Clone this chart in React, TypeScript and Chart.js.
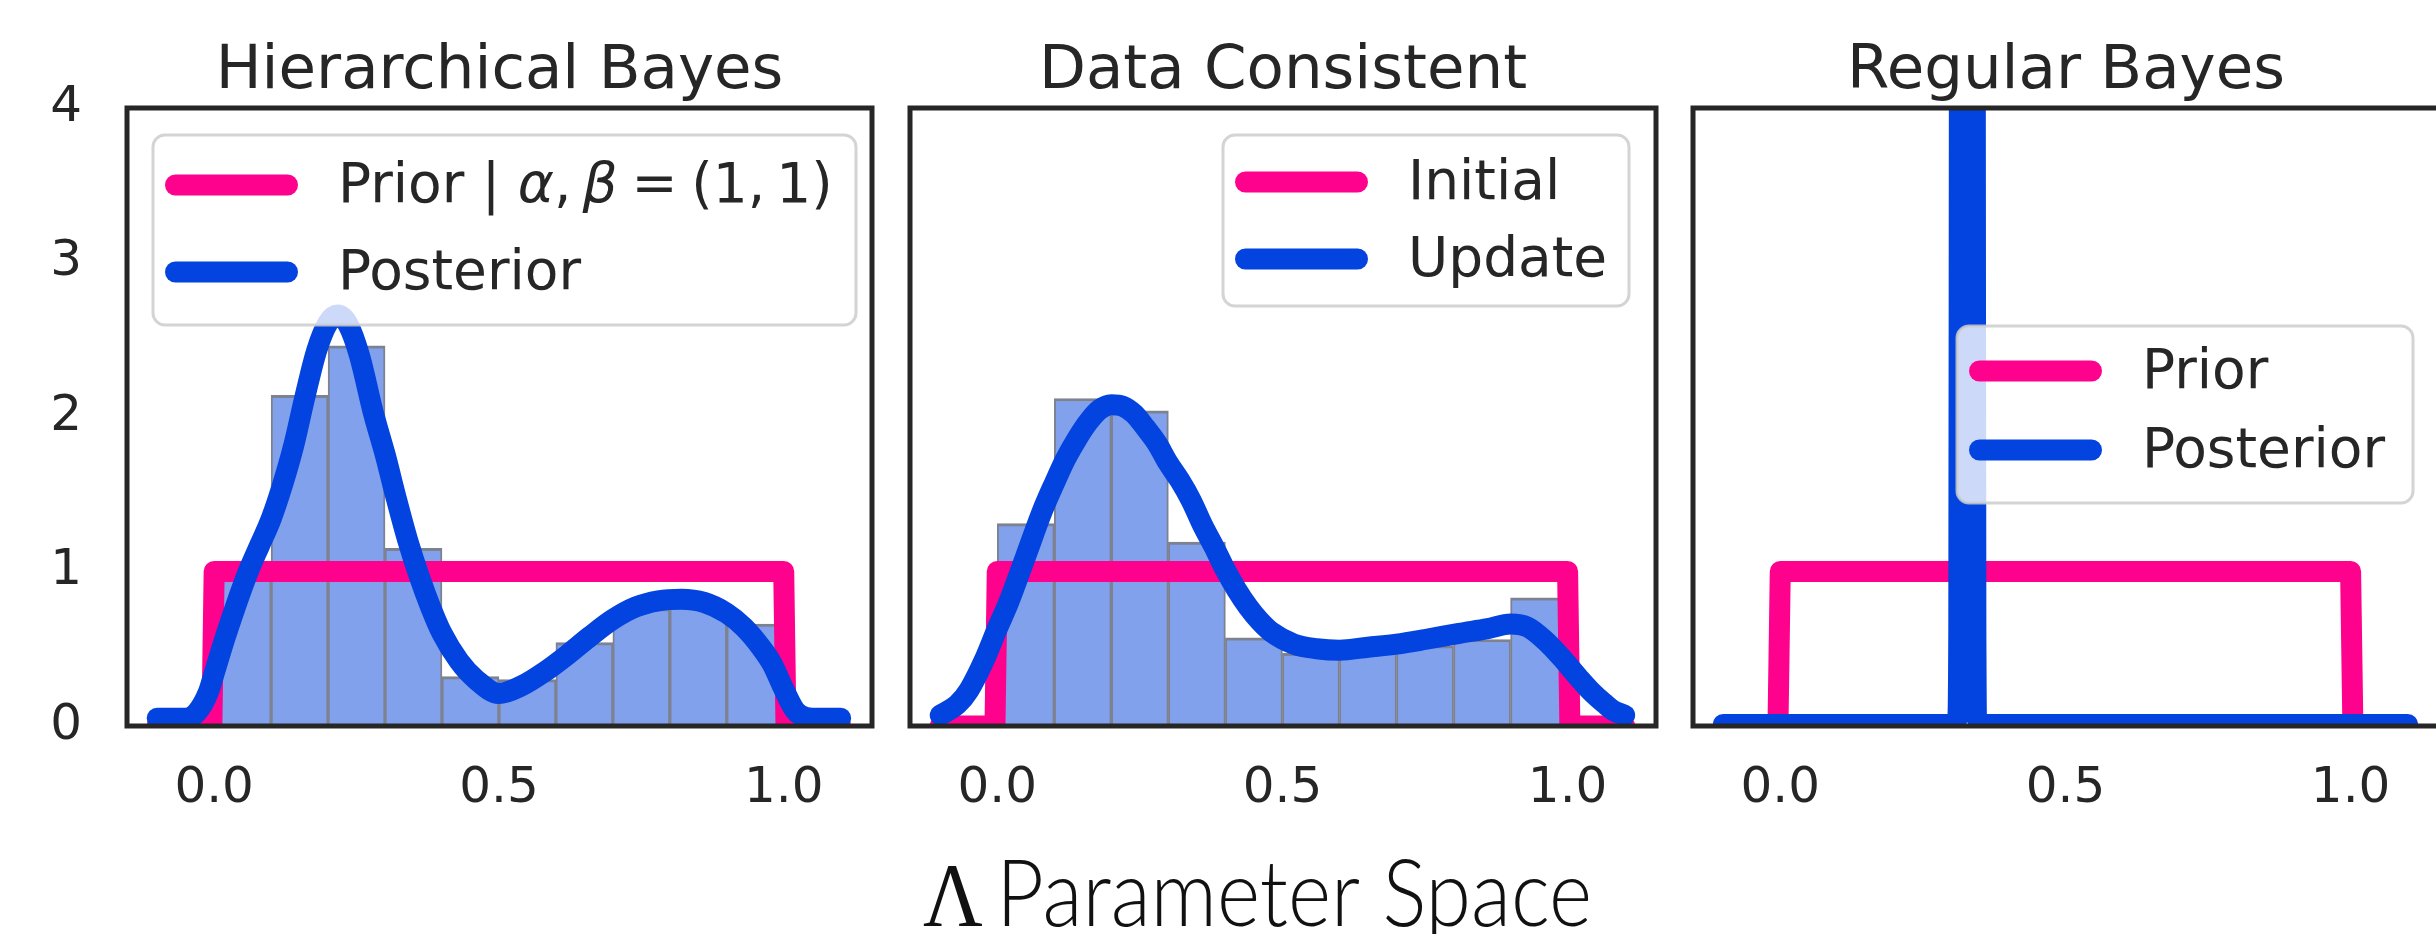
import React, { useEffect, useRef } from 'react';
import { Chart, registerables } from 'chart.js';

Chart.register(...registerables);

// ---------------- data ----------------
const xTickValues = [0, 0.5, 1.0];
const yTickValues = [0, 1, 2, 3, 4];
const binCenters = [0.05, 0.15, 0.25, 0.35, 0.45, 0.55, 0.65, 0.75, 0.85, 0.95];
const hbHistogram = [1.0, 2.14, 2.46, 1.15, 0.32, 0.3, 0.54, 0.76, 0.8, 0.66];
const dcHistogram = [1.31, 2.12, 2.04, 1.19, 0.57, 0.47, 0.49, 0.52, 0.56, 0.83];

const priorX = [-0.1, -0.004, 0.0, 1.0, 1.004, 1.1];
const priorY = [0, 0, 1, 1, 0, 0];

const hbPosteriorX = [-0.1, -0.05, -0.03, -0.01, 0.0, 0.02, 0.04, 0.06, 0.08, 0.1, 0.12, 0.14, 0.16, 0.18, 0.2, 0.217, 0.235, 0.255, 0.28, 0.3, 0.32, 0.34, 0.36, 0.38, 0.4, 0.43, 0.46, 0.5, 0.54, 0.58, 0.62, 0.66, 0.7, 0.74, 0.78, 0.82, 0.86, 0.9, 0.93, 0.96, 0.98, 1.0, 1.02, 1.04, 1.06, 1.1];
const hbPosteriorY = [0.05, 0.05, 0.09, 0.22, 0.34, 0.58, 0.8, 1.0, 1.17, 1.34, 1.56, 1.82, 2.14, 2.43, 2.61, 2.66, 2.6, 2.4, 2.02, 1.76, 1.47, 1.2, 0.97, 0.77, 0.6, 0.42, 0.3, 0.21, 0.26, 0.35, 0.46, 0.58, 0.69, 0.77, 0.81, 0.82, 0.8, 0.73, 0.64, 0.51, 0.4, 0.24, 0.1, 0.055, 0.05, 0.05];

const dcUpdateX = [-0.1, -0.07, -0.05, -0.02, 0.0, 0.02, 0.05, 0.08, 0.1, 0.12, 0.14, 0.16, 0.18, 0.2, 0.22, 0.24, 0.26, 0.28, 0.3, 0.32, 0.34, 0.36, 0.38, 0.4, 0.42, 0.44, 0.46, 0.48, 0.52, 0.56, 0.6, 0.65, 0.7, 0.75, 0.81, 0.86, 0.9, 0.93, 0.96, 0.99, 1.02, 1.045, 1.065, 1.08, 1.1];
const dcUpdateY = [0.07, 0.14, 0.23, 0.45, 0.63, 0.8, 1.1, 1.4, 1.57, 1.73, 1.86, 1.97, 2.05, 2.08, 2.07, 2.02, 1.93, 1.83, 1.7, 1.59, 1.46, 1.3, 1.16, 1.01, 0.88, 0.77, 0.68, 0.61, 0.53, 0.5, 0.49, 0.51, 0.53, 0.56, 0.6, 0.63, 0.66, 0.64, 0.555, 0.44, 0.31, 0.21, 0.145, 0.1, 0.07];

const rbPosteriorX = [-0.1, 0.3, 0.311, 0.313, 0.314, 0.318, 0.328, 0.338, 0.342, 0.343, 0.345, 0.356, 1.1];
const rbPosteriorY = [0.01, 0.01, 0.05, 0.6, 4, 15, 45, 15, 4, 0.6, 0.05, 0.01, 0.01];

const panelTitles = ['Hierarchical Bayes', 'Data Consistent', 'Regular Bayes'];
const priorLabels = ['Prior | $α$,\u2009$β$\u2005=\u2005(1,\u20091)', 'Initial', 'Prior'];
const posteriorLabels = ['Posterior', 'Update', 'Posterior'];
const xAxisLabelParts = ['Λ', 'Parameter Space'];

// ---------------- style ----------------
const PINK = '#ff028d';
const BLUE = '#0343df';
const BAR_FILL = '#81a1ec';
const BAR_EDGE = '#7e8290';
const INK = '#262626';
const FONT = 'DejaVu Sans';
const FIG_W = 2436;
const FIG_H = 934;
const X_MIN = -0.153;
const X_MAX = 1.155;
const LINE_W = 21;

const pts = (xs: number[], ys: number[]) => xs.map((x, i) => ({ x, y: ys[i] }));

type PanelSpec = {
  left: number;
  width: number;
  padL: number;
  padR: number;
  showY: boolean;
  hist: number[] | null;
  postX: number[];
  postY: number[];
  legend: { x: number; y: number; w: number; h: number; rows: number[] };
  xlabel: boolean;
};

const panels: PanelSpec[] = [
  { left: 0, width: 890, padL: 0, padR: 18, showY: true, hist: hbHistogram, postX: hbPosteriorX, postY: hbPosteriorY, legend: { x: 153, y: 135, w: 703, h: 190, rows: [185, 272] }, xlabel: false },
  { left: 890, width: 780, padL: 20, padR: 14, showY: false, hist: dcHistogram, postX: dcUpdateX, postY: dcUpdateY, legend: { x: 1223, y: 135, w: 406, h: 171, rows: [182, 259] }, xlabel: true },
  { left: 1675, width: 780, padL: 18, padR: 16, showY: false, hist: null, postX: rbPosteriorX, postY: rbPosteriorY, legend: { x: 1957, y: 326, w: 456, h: 177, rows: [371, 450] }, xlabel: false },
];

function roundRectPath(ctx: CanvasRenderingContext2D, x: number, y: number, w: number, h: number, r: number) {
  ctx.beginPath();
  ctx.moveTo(x + r, y);
  ctx.lineTo(x + w - r, y);
  ctx.arcTo(x + w, y, x + w, y + r, r);
  ctx.lineTo(x + w, y + h - r);
  ctx.arcTo(x + w, y + h, x + w - r, y + h, r);
  ctx.lineTo(x + r, y + h);
  ctx.arcTo(x, y + h, x, y + h - r, r);
  ctx.lineTo(x, y + r);
  ctx.arcTo(x, y, x + r, y, r);
  ctx.closePath();
}

function drawRichText(ctx: CanvasRenderingContext2D, text: string, x: number, y: number, size: number) {
  const parts = text.split('$');
  let cx = x;
  parts.forEach((p, i) => {
    if (!p) return;
    ctx.font = (i % 2 === 1 ? 'oblique ' : '') + size + 'px "' + FONT + '"';
    ctx.fillText(p, cx, y);
    cx += ctx.measureText(p).width;
  });
}

function makeConfig(spec: PanelSpec, idx: number): any {
  const datasets: any[] = [
    {
      type: 'line',
      label: posteriorLabels[idx],
      data: pts(spec.postX, spec.postY),
      borderColor: BLUE,
      borderWidth: LINE_W,
      pointRadius: 0,
      cubicInterpolationMode: 'monotone',
      borderCapStyle: 'round',
      borderJoinStyle: 'round',
      fill: false,
      clip: 0,
      order: 0,
    },
    {
      type: 'line',
      label: priorLabels[idx],
      data: pts(priorX, priorY),
      borderColor: PINK,
      borderWidth: LINE_W,
      pointRadius: 0,
      tension: 0,
      borderCapStyle: 'round',
      borderJoinStyle: 'round',
      fill: false,
      clip: 0,
      order: 1,
    },
  ];
  if (spec.hist) {
    datasets.push({
      type: 'bar',
      label: 'histogram',
      data: pts(binCenters, spec.hist),
      backgroundColor: BAR_FILL,
      borderColor: BAR_EDGE,
      borderWidth: { top: 3, left: 2, right: 2, bottom: 0 },
      borderSkipped: 'start',
      barPercentage: 1,
      categoryPercentage: 1,
      clip: 0,
      order: 2,
    });
  }

  const decor = {
    id: 'decor' + idx,
    afterDatasetsDraw(chart: any) {
      const ctx: CanvasRenderingContext2D = chart.ctx;
      const a = chart.chartArea;
      const off = spec.left;
      ctx.save();
      // spines
      ctx.strokeStyle = INK;
      ctx.lineWidth = 5;
      ctx.strokeRect(a.left, a.top, a.right - a.left, a.bottom - a.top);
      // legend
      const lg = spec.legend;
      roundRectPath(ctx, lg.x - off, lg.y, lg.w, lg.h, 12);
      ctx.fillStyle = 'rgba(255,255,255,0.8)';
      ctx.fill();
      ctx.strokeStyle = 'rgba(204,204,204,0.85)';
      ctx.lineWidth = 3;
      ctx.stroke();
      const entries = [chart.data.datasets[1], chart.data.datasets[0]];
      entries.forEach((ds: any, i: number) => {
        const ry = lg.rows[i];
        ctx.beginPath();
        ctx.strokeStyle = ds.borderColor;
        ctx.lineWidth = LINE_W;
        ctx.lineCap = 'round';
        ctx.moveTo(lg.x + 22.5 - off, ry);
        ctx.lineTo(lg.x + 134.5 - off, ry);
        ctx.stroke();
        ctx.fillStyle = INK;
        ctx.textBaseline = 'middle';
        ctx.textAlign = 'left';
        drawRichText(ctx, ds.label, lg.x + 185 - off, ry + 3, 55);
      });
      // shared x label (figure-level)
      if (spec.xlabel) {
        ctx.fillStyle = '#111';
        ctx.textBaseline = 'alphabetic';
        ctx.textAlign = 'left';
        const serif = '92px "Liberation Serif"';
        const lato = '300 92px Lato';
        ctx.font = serif;
        const wl = ctx.measureText(xAxisLabelParts[0]).width;
        ctx.font = lato;
        const ws = ctx.measureText(' ').width * 0.6;
        const wr = ctx.measureText(xAxisLabelParts[1]).width;
        const targetW = 1592 - 923;
        const sx = targetW / (wl + ws + wr);
        ctx.translate(923 - off, 926);
        ctx.scale(sx, 1);
        ctx.font = serif;
        ctx.fillText(xAxisLabelParts[0], 0, 0);
        ctx.font = lato;
        ctx.fillText(xAxisLabelParts[1], wl + ws, 0);
      }
      ctx.restore();
    },
  };

  return {
    type: 'line',
    data: { datasets },
    plugins: [decor],
    options: {
      responsive: false,
      animation: false,
      devicePixelRatio: 1,
      events: [],
      layout: { padding: { left: spec.padL, right: spec.padR, top: 0, bottom: 0 } },
      plugins: {
        legend: { display: false },
        tooltip: { enabled: false },
        title: {
          display: true,
          text: panelTitles[idx],
          color: INK,
          fullSize: false,
          font: { family: FONT, size: 61, weight: 'normal', lineHeight: 1 },
          padding: { top: 42, bottom: 5 },
        },
      },
      scales: {
        x: {
          type: 'linear',
          min: X_MIN,
          max: X_MAX,
          offset: false,
          grid: { display: false, drawTicks: false, offset: false },
          border: { display: false },
          afterBuildTicks: (s: any) => {
            s.ticks = xTickValues.map((v) => ({ value: v }));
          },
          afterFit: (s: any) => {
            s.height = FIG_H - 726;
          },
          ticks: {
            autoSkip: false,
            maxRotation: 0,
            padding: 33,
            color: INK,
            font: { family: FONT, size: 50 },
            callback: (v: any) => Number(v).toFixed(1),
          },
        },
        y: {
          type: 'linear',
          display: spec.showY,
          min: 0,
          max: 4,
          grid: { display: false, drawTicks: false },
          border: { display: false },
          afterBuildTicks: (s: any) => {
            s.ticks = yTickValues.map((v) => ({ value: v }));
          },
          afterFit: (s: any) => {
            s.width = spec.showY ? 127 : 0;
          },
          ticks: {
            padding: 45,
            color: INK,
            font: { family: FONT, size: 50 },
            callback: (v: any) => String(v),
          },
        },
      },
    },
  };
}

export default function App() {
  const r0 = useRef<HTMLCanvasElement>(null);
  const r1 = useRef<HTMLCanvasElement>(null);
  const r2 = useRef<HTMLCanvasElement>(null);

  useEffect(() => {
    document.body.style.margin = '0';
    document.body.style.overflow = 'hidden';
    const refs = [r0, r1, r2];
    const charts = panels.map((p, i) => new Chart(refs[i].current as HTMLCanvasElement, makeConfig(p, i)));
    return () => charts.forEach((c) => c.destroy());
  }, []);

  const refs = [r0, r1, r2];
  return (
    <div style={{ position: 'absolute', left: 0, top: 0, width: FIG_W, height: FIG_H, overflow: 'hidden', background: '#ffffff' }}>
      {panels.map((p, i) => (
        <canvas
          key={i}
          ref={refs[i]}
          width={p.width}
          height={FIG_H}
          style={{ position: 'absolute', left: p.left, top: 0, width: p.width, height: FIG_H }}
        />
      ))}
    </div>
  );
}
